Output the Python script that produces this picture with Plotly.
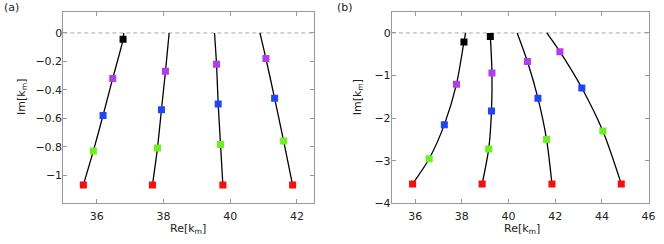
import plotly.graph_objects as go

# Panel (a): four branches, marker points (Re, Im) and colours
a_re = [
    [36.79, 36.48, 36.19, 35.90, 35.60],
    [38.06, 37.94, 37.82, 37.67],
    [39.59, 39.64, 39.71, 39.78],
    [41.07, 41.33, 41.60, 41.87],
]
a_im = [
    [-0.045, -0.32, -0.58, -0.83, -1.07],
    [-0.27, -0.54, -0.81, -1.07],
    [-0.22, -0.50, -0.785, -1.07],
    [-0.18, -0.46, -0.76, -1.07],
]
a_top = [36.81, 38.17, 39.53, 40.89]   # Re where each branch meets Im=0
a_col = [
    ["black", "magenta", "blue", "green", "red"],
    ["magenta", "blue", "green", "red"],
    ["magenta", "blue", "green", "red"],
    ["magenta", "blue", "green", "red"],
]

# Panel (b)
b_re = [
    [38.09, 37.77, 37.25, 36.60, 35.89],
    [39.22, 39.29, 39.27, 39.15, 38.87],
    [40.81, 41.26, 41.63, 41.86],
    [42.20, 43.14, 44.04, 44.83],
]
b_im = [
    [-0.21, -1.20, -2.15, -2.95, -3.54],
    [-0.08, -0.94, -1.83, -2.72, -3.54],
    [-0.67, -1.53, -2.50, -3.54],
    [-0.44, -1.29, -2.30, -3.54],
]
b_top = [38.16, 39.21, 40.37, 41.64]
b_col = [
    ["black", "magenta", "blue", "green", "red"],
    ["black", "magenta", "blue", "green", "red"],
    ["magenta", "blue", "green", "red"],
    ["magenta", "blue", "green", "red"],
]

palette = {"black": "#000000", "magenta": "#b43cf0", "blue": "#1e46ff",
           "green": "#6cf01e", "red": "#ff0a0a"}

fig = go.Figure()

def add_panel(res, ims, tops, cols, xa, ya):
    for re_, im_, top, cl in zip(res, ims, tops, cols):
        fig.add_trace(go.Scatter(x=[top] + re_, y=[0] + im_, mode="lines",
                                 line=dict(color="black", width=1.3, shape="spline", smoothing=0.8),
                                 xaxis=xa, yaxis=ya, showlegend=False, hoverinfo="skip"))
        fig.add_trace(go.Scatter(x=re_, y=im_, mode="markers",
                                 marker=dict(symbol="square", size=7,
                                             color=[palette[c] for c in cl]),
                                 xaxis=xa, yaxis=ya, showlegend=False))

add_panel(a_re, a_im, a_top, a_col, "x", "y")
add_panel(b_re, b_im, b_top, b_col, "x2", "y2")

W, H = 664, 244
ytop, ybot = 1 - 12 / H, 1 - 209.5 / H
axis_common = dict(showgrid=False, zeroline=False, showline=True, linecolor="#999999",
                   linewidth=1, mirror="ticks", ticks="inside", ticklen=4, tickcolor="#999999",
                   ticklabeloverflow="allow",
                   tickfont=dict(size=11, color="#222222"))
xcommon = dict(axis_common, ticklabelstandoff=2)
ycommon = dict(axis_common, ticklabelstandoff=-2)

fig.update_layout(
    width=W, height=H, margin=dict(l=0, r=0, t=0, b=0),
    paper_bgcolor="white", plot_bgcolor="white",
    font=dict(family="DejaVu Sans", size=11, color="#222222"),
    xaxis=dict(domain=[64 / W, 317 / W], range=[35, 42.5], tickvals=[36, 38, 40, 42],
               anchor="y", **xcommon),
    yaxis=dict(domain=[ybot, ytop], range=[-1.2, 0.15], tickvals=[0, -0.2, -0.4, -0.6, -0.8, -1],
               ticktext=["0", "−0.2", "−0.4", "−0.6", "−0.8", "−1"], anchor="x", **ycommon),
    xaxis2=dict(domain=[396 / W, 655.5 / W], range=[35, 46], tickvals=[36, 38, 40, 42, 44, 46],
                anchor="y2", **xcommon),
    yaxis2=dict(domain=[ybot, ytop], range=[-4, 0.5], tickvals=[0, -1, -2, -3, -4],
                ticktext=["0", "−1", "−2", "−3", "−4"], anchor="x2", **ycommon),
    shapes=[
        dict(type="line", xref="x domain", yref="y", x0=0, x1=1, y0=0, y1=0,
             line=dict(color="#aaaaaa", width=1, dash="4px,3px"), layer="below"),
        dict(type="line", xref="x2 domain", yref="y2", x0=0, x1=1, y0=0, y1=0,
             line=dict(color="#aaaaaa", width=1, dash="4px,3px"), layer="below"),
    ],
    annotations=[
        dict(text="(a)", x=2 / W, y=1 - 8 / H, xref="paper", yref="paper", showarrow=False,
             xanchor="left", yanchor="middle", font=dict(size=11)),
        dict(text="(b)", x=339 / W, y=1 - 8 / H, xref="paper", yref="paper", showarrow=False,
             xanchor="left", yanchor="middle", font=dict(size=11)),
        dict(text="Re[k<sub>m</sub>]", x=190 / W, y=1 - 227 / H, xref="paper", yref="paper",
             showarrow=False, xanchor="center", yanchor="top", font=dict(size=11)),
        dict(text="Re[k<sub>m</sub>]", x=528 / W, y=1 - 227 / H, xref="paper", yref="paper",
             showarrow=False, xanchor="center", yanchor="top", font=dict(size=11)),
        dict(text="Im[k<sub>m</sub>]", x=22 / W, y=1 - 100 / H, xref="paper", yref="paper",
             showarrow=False, textangle=-90, xanchor="center", yanchor="middle", font=dict(size=11)),
        dict(text="Im[k<sub>m</sub>]", x=362 / W, y=1 - 100 / H, xref="paper", yref="paper",
             showarrow=False, textangle=-90, xanchor="center", yanchor="middle", font=dict(size=11)),
    ],
)

fig.write_html("out.html", config={"displayModeBar": False},
               post_script="document.body.style.margin='0';document.body.style.overflow='hidden';")
